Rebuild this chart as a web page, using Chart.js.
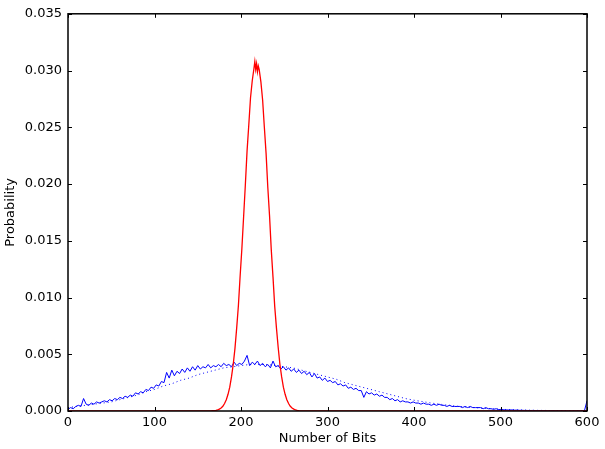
<!DOCTYPE html>
<html>
<head>
<meta charset="utf-8">
<script src="https://cdn.jsdelivr.net/npm/chart.js@4/dist/chart.umd.min.js"></script>
<style>
  html, body { margin: 0; padding: 0; background: #fff; }
  canvas { display: block; }
</style>
</head>
<body>
<canvas id="myChart" width="605" height="449"></canvas>
<script>
// axis ticks
var xTicks = [0, 100, 200, 300, 400, 500, 600];
var yTicks = [0, 0.005, 0.010, 0.015, 0.020, 0.025, 0.030, 0.035];

// blue histogram, one value every 3 bits starting at 0
var blueStep = 3;
var blueValues = [
  0.00015, 0.0003, 0.0002, 0.0004, 0.0005, 0.0004, 0.0011, 0.0006, 0.0005, 0.0007,
  0.0006, 0.0008, 0.0007, 0.0008, 0.0009, 0.0008, 0.0010, 0.0009, 0.0011, 0.0010,
  0.0012, 0.0011, 0.0013, 0.0012, 0.0014, 0.0013, 0.0016, 0.0015, 0.0017, 0.0016,
  0.0019, 0.0018, 0.0021, 0.0020, 0.0023, 0.0022, 0.0026, 0.0025, 0.0034, 0.0029,
  0.0036, 0.0031, 0.0035, 0.0033, 0.0037, 0.0034, 0.0038, 0.0035, 0.0039, 0.0036,
  0.0040, 0.0037, 0.0039, 0.0038, 0.0041, 0.0038, 0.0040, 0.0039, 0.0041, 0.0039,
  0.0042, 0.0040, 0.0041, 0.0039, 0.0043, 0.0040, 0.0042, 0.0041, 0.0044, 0.0049,
  0.0040, 0.0043, 0.0041, 0.0044, 0.0040, 0.0042, 0.0039, 0.0041, 0.0038, 0.0044,
  0.0039, 0.0040, 0.0037, 0.0039, 0.0036, 0.0038, 0.0035, 0.0037, 0.0034, 0.0036,
  0.0033, 0.0035, 0.0032, 0.0034, 0.0030, 0.0033, 0.0029, 0.0030, 0.0027, 0.0029,
  0.0026, 0.0027, 0.0025, 0.0026, 0.0023, 0.0024, 0.0022, 0.0023, 0.0020, 0.0021,
  0.0019, 0.0020, 0.0018, 0.0018, 0.0012, 0.0017, 0.0015, 0.0016, 0.0014, 0.0015,
  0.0013, 0.0014, 0.0012, 0.0012, 0.0010, 0.0011, 0.0009, 0.0010, 0.0008, 0.0009,
  0.0008, 0.0008, 0.0007, 0.0008, 0.0007, 0.0007, 0.0006, 0.0007, 0.0006, 0.0006,
  0.0005, 0.0006, 0.0005, 0.0006, 0.0005, 0.0005, 0.0004, 0.0005, 0.0004, 0.0004,
  0.0004, 0.0004, 0.0003, 0.0004, 0.0003, 0.0004, 0.0003, 0.0003, 0.0003, 0.0003,
  0.0002, 0.0003, 0.0002, 0.0002, 0.00015, 0.0002, 0.00012, 0.00015, 0.0001, 0.0001,
  0.00008, 0.0001, 0.00007, 0.00008, 0.00006, 0.00006, 0.00005, 0.00005, 0.00004, 0.00005,
  0.00004, 0.00003, 0.00004, 0.00003, 0.00003, 0.00002, 0.00003, 0.00002, 0.00002, 0.00002,
  0.00001, 0.00002, 0.00001, 0.00001, 0.00001, 0.00001, 0.00001, 0.00001, 0.00001, 0.00001,
  0.0009
];

// dotted fitted curve
var fitX = [0, 10, 20, 30, 40, 50, 60, 70, 80, 90, 100, 110, 120, 130, 140, 150, 160, 170, 180, 190,
  200, 210, 220, 230, 240, 250, 260, 270, 280, 290, 300, 310, 320, 330, 340, 350, 360, 370, 380, 390,
  400, 420, 440, 460, 480, 500, 520, 540, 560, 580, 600];
var fitY = [0.0003, 0.0004, 0.0005, 0.0006, 0.0007, 0.0008, 0.0010, 0.0012, 0.0014, 0.0017,
  0.0019, 0.0022, 0.0024, 0.0027, 0.0029, 0.0032, 0.0034, 0.0036, 0.0038, 0.0039,
  0.0040, 0.0041, 0.0041, 0.0041, 0.0040, 0.0039, 0.0038, 0.0036, 0.0034, 0.0032,
  0.0030, 0.0028, 0.0025, 0.0023, 0.0021, 0.0019, 0.0017, 0.0015, 0.0013, 0.0011,
  0.00095, 0.0007, 0.0005, 0.00035, 0.00025, 0.00015, 0.0001, 0.00006, 0.00004, 0.00002, 0.00001];

// red narrow peak
var redX = [0, 163, 165, 167, 169, 171, 173, 175, 177, 179, 181, 183, 185, 187, 189, 191, 193, 195, 197, 199,
  201, 203, 205, 207, 209, 211, 213, 215, 216, 217, 218, 219, 220, 221, 223, 225, 227, 229, 231, 233,
  235, 237, 239, 241, 243, 245, 247, 249, 251, 253, 255, 257, 259, 261, 263, 265, 267, 269, 271, 600];
var redY = [0, 0, 0.00001, 0.00002, 0.00003, 0.00006, 0.0001, 0.00017, 0.00027, 0.00042, 0.00066, 0.0010, 0.00147, 0.0021, 0.0030, 0.0041, 0.0055, 0.0073, 0.0093, 0.0119,
  0.0143, 0.0171, 0.0199, 0.0229, 0.0252, 0.0276, 0.0291, 0.0302, 0.0308, 0.0301, 0.0306, 0.0299, 0.0304, 0.0301, 0.0290, 0.0274, 0.0250, 0.0227, 0.0197, 0.0172,
  0.0142, 0.0118, 0.0092, 0.0073, 0.0056, 0.0041, 0.0030, 0.0021, 0.00147, 0.0010, 0.00066, 0.00042, 0.00027, 0.00017, 0.0001, 0.00006, 0.00003, 0.00001, 0, 0];

function pairs(xs, ys) {
    return xs.map(function(x, i) { return { x: x, y: ys[i] }; });
}

var bluePoints = blueValues.map(function(v, i) { return { x: i * blueStep, y: v }; });

// matplotlib style frame with inward ticks on all four sides
var framePlugin = {
    id: 'frame',
    afterDatasetsDraw: function(chart) {
        var ctx = chart.ctx;
        var a = chart.chartArea;
        var xs = chart.scales.x, ys = chart.scales.y;
        ctx.save();
        ctx.strokeStyle = '#000';
        ctx.lineWidth = 1;
        ctx.beginPath();
        xTicks.forEach(function(t) {
            var px = Math.round(xs.getPixelForValue(t)) + 0.5;
            ctx.moveTo(px, a.bottom); ctx.lineTo(px, a.bottom - 4);
            ctx.moveTo(px, a.top); ctx.lineTo(px, a.top + 4);
        });
        yTicks.forEach(function(t) {
            var py = Math.round(ys.getPixelForValue(t)) + 0.5;
            ctx.moveTo(a.left, py); ctx.lineTo(a.left + 4, py);
            ctx.moveTo(a.right, py); ctx.lineTo(a.right - 4, py);
        });
        ctx.stroke();
        ctx.lineWidth = 1.5;
        ctx.strokeRect(a.left, a.top, a.right - a.left, a.bottom - a.top);
        ctx.restore();
    }
};

var font = { family: 'DejaVu Sans', size: 13 };

var ctx = document.getElementById('myChart').getContext('2d');
var chart = new Chart(ctx, {
    type: 'line',
    data: {
        datasets: [
            {
                label: 'red',
                data: pairs(redX, redY),
                borderColor: '#ff0000',
                borderWidth: 1.3,
                pointRadius: 0,
                order: 0
            },
            {
                label: 'blue',
                data: bluePoints,
                borderColor: '#0000ff',
                borderWidth: 1,
                pointRadius: 0,
                order: 1
            },
            {
                label: 'fit',
                data: pairs(fitX, fitY),
                borderColor: '#0000ff',
                borderWidth: 1,
                borderDash: [1, 3],
                pointRadius: 0,
                order: 2
            }
        ]
    },
    options: {
        responsive: false,
        animation: false,
        layout: { padding: { top: 11, right: 18, left: 0, bottom: 0 } },
        scales: {
            x: {
                type: 'linear',
                min: 0,
                max: 600,
                afterFit: function(s) { s.height = 38; },
                afterBuildTicks: function(s) { s.ticks = xTicks.map(function(v) { return { value: v }; }); },
                grid: { display: false, drawTicks: false },
                border: { display: false },
                ticks: { color: '#000', font: font, padding: 4, maxRotation: 0,
                         callback: function(v) { return String(v); } },
                title: { display: true, text: 'Number of Bits', color: '#000', font: font,
                         padding: { top: 0, bottom: 3 } }
            },
            y: {
                type: 'linear',
                min: 0,
                max: 0.035,
                afterFit: function(s) { s.width = 68; },
                afterBuildTicks: function(s) { s.ticks = yTicks.map(function(v) { return { value: v }; }); },
                grid: { display: false, drawTicks: false },
                border: { display: false },
                ticks: { color: '#000', font: font, padding: 6,
                         callback: function(v) { return v.toFixed(3); } },
                title: { display: true, text: 'Probability', color: '#000', font: font,
                         padding: { top: 3, bottom: 0 } }
            }
        },
        plugins: {
            legend: { display: false },
            tooltip: { enabled: false }
        }
    },
    plugins: [framePlugin]
});
</script>
</body>
</html>
